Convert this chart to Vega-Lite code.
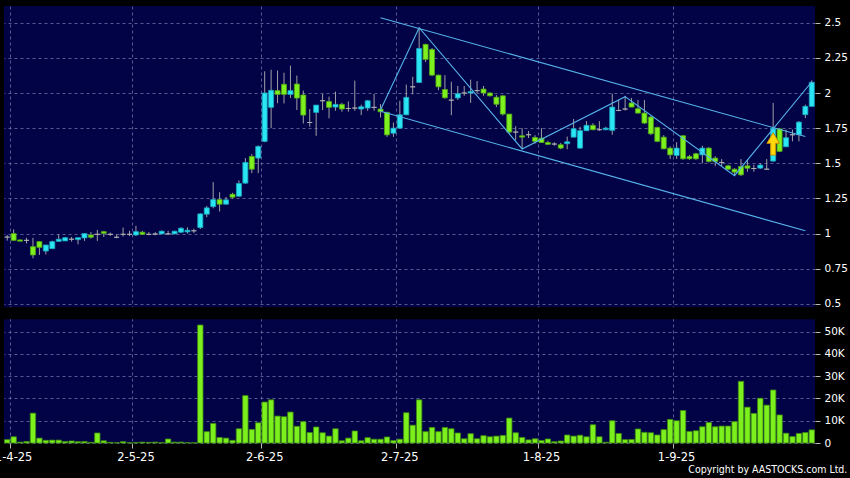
{
"$schema": "https://vega.github.io/schema/vega-lite/v6.json",
"width": 811,
"height": 437,
"autosize": {"type": "none"},
"padding": {"left": 4, "top": 6, "right": 35, "bottom": 35},
"background": "#000000",
"title": {"text": "Copyright by AASTOCKS.com Ltd.", "orient": "bottom", "anchor": "end", "color": "#ffffff", "fontSize": 10.5, "font": "DejaVu Sans Condensed, Liberation Sans Narrow, Liberation Sans", "fontWeight": "normal", "offset": 2},
"config": {
  "view": {"fill": "#020246", "stroke": null},
  "axis": {"domain": false, "gridColor": "#6a6aa0", "gridDash": [3, 3], "gridOpacity": 0.85, "tickColor": "#b8b8b8", "tickSize": 5, "labelColor": "#ffffff", "labelFont": "DejaVu Sans"}
},
"datasets": {
"candles": [
{"d":"2025-03-31","o":0.975,"h":0.99,"l":0.95,"c":0.975,"v":1500},
{"d":"2025-04-01","o":1.0,"h":1.03,"l":0.95,"c":0.952,"v":2800},
{"d":"2025-04-02","o":0.955,"h":0.958,"l":0.945,"c":0.946,"v":400},
{"d":"2025-04-03","o":0.952,"h":0.97,"l":0.93,"c":0.952,"v":700},
{"d":"2025-04-07","o":0.907,"h":0.97,"l":0.824,"c":0.848,"v":13400},
{"d":"2025-04-08","o":0.943,"h":0.945,"l":0.848,"c":0.902,"v":2200},
{"d":"2025-04-09","o":0.876,"h":0.92,"l":0.852,"c":0.919,"v":1200},
{"d":"2025-04-10","o":0.893,"h":0.95,"l":0.89,"c":0.943,"v":1300},
{"d":"2025-04-11","o":0.945,"h":0.995,"l":0.945,"c":0.96,"v":1300},
{"d":"2025-04-14","o":0.948,"h":0.976,"l":0.948,"c":0.971,"v":700},
{"d":"2025-04-15","o":0.96,"h":0.976,"l":0.943,"c":0.96,"v":900},
{"d":"2025-04-16","o":0.957,"h":0.971,"l":0.924,"c":0.971,"v":600},
{"d":"2025-04-17","o":0.969,"h":1.0,"l":0.948,"c":1.0,"v":700},
{"d":"2025-04-22","o":0.99,"h":1.012,"l":0.964,"c":0.974,"v":300},
{"d":"2025-04-23","o":0.995,"h":1.026,"l":0.948,"c":0.995,"v":4500},
{"d":"2025-04-24","o":1.014,"h":1.02,"l":0.976,"c":1.002,"v":1000},
{"d":"2025-04-25","o":0.995,"h":1.007,"l":0.983,"c":0.995,"v":300},
{"d":"2025-04-28","o":0.974,"h":0.995,"l":0.967,"c":0.974,"v":150},
{"d":"2025-04-29","o":0.995,"h":1.043,"l":0.979,"c":0.995,"v":600},
{"d":"2025-04-30","o":0.995,"h":1.02,"l":0.983,"c":0.995,"v":150},
{"d":"2025-05-02","o":0.99,"h":1.055,"l":0.983,"c":1.014,"v":200},
{"d":"2025-05-06","o":1.01,"h":1.02,"l":0.99,"c":0.995,"v":400},
{"d":"2025-05-07","o":0.995,"h":1.01,"l":0.988,"c":0.995,"v":300},
{"d":"2025-05-08","o":0.997,"h":1.01,"l":0.988,"c":0.997,"v":400},
{"d":"2025-05-09","o":0.998,"h":1.022,"l":0.995,"c":1.017,"v":150},
{"d":"2025-05-12","o":0.998,"h":1.02,"l":0.99,"c":0.998,"v":1800},
{"d":"2025-05-13","o":0.998,"h":1.02,"l":0.995,"c":1.017,"v":400},
{"d":"2025-05-14","o":1.01,"h":1.045,"l":1.003,"c":1.038,"v":400},
{"d":"2025-05-15","o":1.012,"h":1.045,"l":1.0,"c":1.024,"v":150},
{"d":"2025-05-16","o":1.02,"h":1.035,"l":1.005,"c":1.02,"v":100},
{"d":"2025-05-19","o":1.043,"h":1.145,"l":1.033,"c":1.14,"v":53000},
{"d":"2025-05-20","o":1.138,"h":1.197,"l":1.116,"c":1.183,"v":5100},
{"d":"2025-05-21","o":1.192,"h":1.366,"l":1.18,"c":1.242,"v":8800},
{"d":"2025-05-22","o":1.242,"h":1.295,"l":1.157,"c":1.209,"v":2500},
{"d":"2025-05-23","o":1.209,"h":1.26,"l":1.209,"c":1.24,"v":2200},
{"d":"2025-05-26","o":1.28,"h":1.29,"l":1.25,"c":1.259,"v":1200},
{"d":"2025-05-27","o":1.266,"h":1.378,"l":1.261,"c":1.356,"v":6400},
{"d":"2025-05-28","o":1.359,"h":1.537,"l":1.355,"c":1.506,"v":21300},
{"d":"2025-05-29","o":1.549,"h":1.565,"l":1.43,"c":1.458,"v":6100},
{"d":"2025-05-30","o":1.537,"h":1.627,"l":1.43,"c":1.62,"v":9100},
{"d":"2025-06-02","o":1.656,"h":2.154,"l":1.65,"c":2.0,"v":18400},
{"d":"2025-06-03","o":1.898,"h":2.166,"l":1.75,"c":2.019,"v":19400},
{"d":"2025-06-04","o":2.017,"h":2.16,"l":1.927,"c":1.99,"v":12100},
{"d":"2025-06-05","o":2.062,"h":2.144,"l":1.926,"c":1.99,"v":11800},
{"d":"2025-06-06","o":1.99,"h":2.195,"l":1.964,"c":2.017,"v":13900},
{"d":"2025-06-09","o":2.064,"h":2.124,"l":1.879,"c":1.964,"v":7500},
{"d":"2025-06-10","o":1.986,"h":2.017,"l":1.783,"c":1.843,"v":9600},
{"d":"2025-06-11","o":1.79,"h":1.886,"l":1.76,"c":1.79,"v":4700},
{"d":"2025-06-12","o":1.862,"h":1.914,"l":1.695,"c":1.914,"v":7200},
{"d":"2025-06-13","o":1.945,"h":1.993,"l":1.879,"c":1.945,"v":4600},
{"d":"2025-06-16","o":1.94,"h":1.974,"l":1.82,"c":1.898,"v":3100},
{"d":"2025-06-17","o":1.9,"h":2.01,"l":1.874,"c":1.919,"v":6400},
{"d":"2025-06-18","o":1.919,"h":1.93,"l":1.867,"c":1.886,"v":1000},
{"d":"2025-06-19","o":1.89,"h":1.94,"l":1.867,"c":1.89,"v":2200},
{"d":"2025-06-20","o":1.893,"h":2.088,"l":1.874,"c":1.893,"v":5400},
{"d":"2025-06-23","o":1.886,"h":1.917,"l":1.843,"c":1.902,"v":1000},
{"d":"2025-06-24","o":1.893,"h":1.95,"l":1.874,"c":1.945,"v":2400},
{"d":"2025-06-25","o":1.898,"h":1.993,"l":1.874,"c":1.898,"v":1700},
{"d":"2025-06-26","o":1.886,"h":1.921,"l":1.826,"c":1.867,"v":1700},
{"d":"2025-06-27","o":1.862,"h":1.867,"l":1.688,"c":1.702,"v":2700},
{"d":"2025-06-30","o":1.714,"h":1.79,"l":1.688,"c":1.75,"v":1100},
{"d":"2025-07-02","o":1.75,"h":1.945,"l":1.75,"c":1.845,"v":1700},
{"d":"2025-07-03","o":1.845,"h":2.06,"l":1.845,"c":1.969,"v":13600},
{"d":"2025-07-04","o":2.044,"h":2.115,"l":1.99,"c":2.044,"v":8000},
{"d":"2025-07-07","o":2.075,"h":2.46,"l":2.07,"c":2.317,"v":19400},
{"d":"2025-07-08","o":2.346,"h":2.35,"l":2.22,"c":2.239,"v":5100},
{"d":"2025-07-09","o":2.31,"h":2.32,"l":2.12,"c":2.127,"v":7000},
{"d":"2025-07-10","o":2.127,"h":2.13,"l":2.02,"c":2.044,"v":5100},
{"d":"2025-07-11","o":2.025,"h":2.127,"l":1.96,"c":1.966,"v":7000},
{"d":"2025-07-14","o":1.949,"h":2.08,"l":1.842,"c":1.949,"v":6400},
{"d":"2025-07-15","o":1.965,"h":2.05,"l":1.95,"c":1.995,"v":4500},
{"d":"2025-07-16","o":2.0,"h":2.05,"l":1.98,"c":2.0,"v":1900},
{"d":"2025-07-17","o":2.0,"h":2.095,"l":1.93,"c":2.01,"v":4200},
{"d":"2025-07-18","o":2.017,"h":2.085,"l":2.0,"c":2.017,"v":1900},
{"d":"2025-07-21","o":2.028,"h":2.05,"l":1.98,"c":2.0,"v":3300},
{"d":"2025-07-22","o":2.0,"h":2.005,"l":1.975,"c":1.98,"v":2800},
{"d":"2025-07-23","o":1.97,"h":1.985,"l":1.9,"c":1.92,"v":3100},
{"d":"2025-07-24","o":1.98,"h":1.985,"l":1.84,"c":1.85,"v":3400},
{"d":"2025-07-25","o":1.85,"h":1.85,"l":1.71,"c":1.722,"v":11200},
{"d":"2025-07-28","o":1.722,"h":1.764,"l":1.664,"c":1.722,"v":4600},
{"d":"2025-07-29","o":1.696,"h":1.75,"l":1.6,"c":1.686,"v":2500},
{"d":"2025-07-30","o":1.703,"h":1.73,"l":1.68,"c":1.703,"v":1400},
{"d":"2025-07-31","o":1.684,"h":1.7,"l":1.64,"c":1.656,"v":1900},
{"d":"2025-08-01","o":1.679,"h":1.75,"l":1.645,"c":1.648,"v":1100},
{"d":"2025-08-04","o":1.648,"h":1.66,"l":1.63,"c":1.635,"v":1800},
{"d":"2025-08-05","o":1.637,"h":1.65,"l":1.625,"c":1.637,"v":600},
{"d":"2025-08-06","o":1.632,"h":1.645,"l":1.6,"c":1.608,"v":900},
{"d":"2025-08-07","o":1.639,"h":1.69,"l":1.6,"c":1.653,"v":3600},
{"d":"2025-08-08","o":1.686,"h":1.815,"l":1.686,"c":1.746,"v":3100},
{"d":"2025-08-11","o":1.608,"h":1.76,"l":1.605,"c":1.732,"v":3500},
{"d":"2025-08-12","o":1.732,"h":1.8,"l":1.73,"c":1.77,"v":2800},
{"d":"2025-08-13","o":1.77,"h":1.785,"l":1.735,"c":1.739,"v":8200},
{"d":"2025-08-14","o":1.739,"h":1.8,"l":1.73,"c":1.739,"v":2800},
{"d":"2025-08-15","o":1.739,"h":1.76,"l":1.735,"c":1.75,"v":350},
{"d":"2025-08-18","o":1.734,"h":1.995,"l":1.703,"c":1.9,"v":10000},
{"d":"2025-08-19","o":1.876,"h":1.952,"l":1.87,"c":1.876,"v":4300},
{"d":"2025-08-20","o":1.886,"h":1.98,"l":1.875,"c":1.886,"v":1500},
{"d":"2025-08-21","o":1.929,"h":1.965,"l":1.9,"c":1.9,"v":1600},
{"d":"2025-08-22","o":1.888,"h":1.95,"l":1.855,"c":1.857,"v":6300},
{"d":"2025-08-25","o":1.857,"h":1.95,"l":1.78,"c":1.786,"v":4800},
{"d":"2025-08-26","o":1.829,"h":1.84,"l":1.7,"c":1.71,"v":4600},
{"d":"2025-08-27","o":1.755,"h":1.76,"l":1.65,"c":1.656,"v":3600},
{"d":"2025-08-28","o":1.686,"h":1.7,"l":1.6,"c":1.603,"v":6000},
{"d":"2025-08-29","o":1.608,"h":1.62,"l":1.53,"c":1.56,"v":10600},
{"d":"2025-09-01","o":1.556,"h":1.65,"l":1.53,"c":1.608,"v":10000},
{"d":"2025-09-02","o":1.696,"h":1.7,"l":1.525,"c":1.532,"v":14600},
{"d":"2025-09-03","o":1.549,"h":1.56,"l":1.525,"c":1.532,"v":5200},
{"d":"2025-09-04","o":1.568,"h":1.575,"l":1.525,"c":1.532,"v":5500},
{"d":"2025-09-05","o":1.56,"h":1.625,"l":1.5,"c":1.608,"v":7300},
{"d":"2025-09-08","o":1.608,"h":1.615,"l":1.505,"c":1.513,"v":9200},
{"d":"2025-09-09","o":1.537,"h":1.55,"l":1.48,"c":1.513,"v":7300},
{"d":"2025-09-10","o":1.506,"h":1.53,"l":1.48,"c":1.506,"v":7600},
{"d":"2025-09-11","o":1.482,"h":1.49,"l":1.455,"c":1.458,"v":7600},
{"d":"2025-09-12","o":1.458,"h":1.465,"l":1.41,"c":1.437,"v":9600},
{"d":"2025-09-15","o":1.477,"h":1.53,"l":1.41,"c":1.418,"v":27700},
{"d":"2025-09-16","o":1.482,"h":1.525,"l":1.44,"c":1.465,"v":16100},
{"d":"2025-09-17","o":1.463,"h":1.49,"l":1.44,"c":1.463,"v":13300},
{"d":"2025-09-18","o":1.466,"h":1.5,"l":1.46,"c":1.487,"v":20100},
{"d":"2025-09-19","o":1.458,"h":1.53,"l":1.455,"c":1.458,"v":17000},
{"d":"2025-09-22","o":1.516,"h":1.929,"l":1.51,"c":1.749,"v":23800},
{"d":"2025-09-23","o":1.745,"h":1.75,"l":1.58,"c":1.585,"v":12600},
{"d":"2025-09-24","o":1.618,"h":1.74,"l":1.615,"c":1.682,"v":4400},
{"d":"2025-09-25","o":1.703,"h":1.74,"l":1.656,"c":1.703,"v":2900},
{"d":"2025-09-26","o":1.703,"h":1.8,"l":1.656,"c":1.793,"v":4300},
{"d":"2025-09-29","o":1.846,"h":1.917,"l":1.822,"c":1.905,"v":4700},
{"d":"2025-09-30","o":1.905,"h":2.09,"l":1.905,"c":2.076,"v":5900}
],
"lines": [
{"g":"upper","k":1,"d":"2025-06-26","p":2.535},
{"g":"upper","k":2,"d":"2025-09-29","p":1.69},
{"g":"lower","k":1,"d":"2025-06-26","p":1.87},
{"g":"lower","k":2,"d":"2025-09-29","p":1.02},
{"g":"zig","k":1,"d":"2025-06-26","p":1.879},
{"g":"zig","k":2,"d":"2025-07-07","p":2.464},
{"g":"zig","k":3,"d":"2025-07-29","p":1.602},
{"g":"zig","k":4,"d":"2025-08-20","p":1.974},
{"g":"zig","k":5,"d":"2025-09-12","p":1.412},
{"g":"zig","k":6,"d":"2025-09-30","p":2.08}
],
"arrow": [
{"d":"2025-09-22","p":1.638}
]
},
"data": {"name": "candles"},
"encoding": {
  "x": {"field": "d", "type": "ordinal",
    "scale": {"type": "band", "paddingInner": 0, "paddingOuter": 0},
    "axis": {"values": ["2025-04-01","2025-05-02","2025-06-02","2025-07-02","2025-08-01","2025-09-01"],
      "labelExpr": "utcFormat(toDate(datum.value), '%-d-%-m-%y')",
      "bandPosition": 0, "grid": true, "labelAngle": 0, "labelFontSize": 11.5, "labelPadding": 3, "title": null}}
},
"layer": [
  {"layer": [
    {"mark": {"type": "rule", "color": "#a0a0a8", "strokeWidth": 1},
     "encoding": {
       "y": {"field": "l", "type": "quantitative",
         "scale": {"domain": [-0.4893, 2.6188], "nice": false, "zero": false},
         "axis": {"orient": "right", "values": [0.5, 0.75, 1, 1.25, 1.5, 1.75, 2, 2.25, 2.5], "format": ".3~f", "grid": true, "labelFontSize": 10.5, "labelPadding": 4, "title": null}},
       "y2": {"field": "h"}}},
    {"mark": {"type": "bar", "size": 5, "strokeWidth": 0.8},
     "encoding": {
       "y": {"field": "o", "type": "quantitative"},
       "y2": {"field": "c"},
       "fill": {"condition": [{"test": "datum.c > datum.o", "value": "#2ae6f2"}, {"test": "datum.c < datum.o", "value": "#7ef01e"}], "value": "#a8a8b0"},
       "stroke": {"condition": [{"test": "datum.c > datum.o", "value": "#1aa8c0"}, {"test": "datum.c < datum.o", "value": "#4fa814"}], "value": "#b4b4b4"}}},
    {"data": {"name": "lines"},
     "mark": {"type": "line", "color": "#55b4ea", "strokeWidth": 1.1},
     "encoding": {
       "y": {"field": "p", "type": "quantitative"},
       "detail": {"field": "g"},
       "order": {"field": "k"}}},
    {"data": {"name": "arrow"},
     "mark": {"type": "point", "shape": "M0,-1L0.56,-0.05L0.22,-0.05L0.22,1L-0.22,1L-0.22,-0.05L-0.56,-0.05Z", "size": 500, "filled": true, "fill": "#ffd80a", "stroke": "#c88a00", "strokeWidth": 1, "opacity": 1},
     "encoding": {"y": {"field": "p", "type": "quantitative"}}}
  ]},
  {"layer": [
    {"mark": {"type": "bar", "size": 5.4, "fill": "#7cf01c", "stroke": "#3e8a12", "strokeWidth": 0.8},
     "encoding": {
       "y": {"field": "v", "type": "quantitative",
         "scale": {"domain": [0, 196300], "nice": false},
         "axis": {"orient": "right", "values": [0, 10000, 20000, 30000, 40000, 50000], "labelExpr": "datum.value == 0 ? '0' : (datum.value / 1000) + 'K'", "grid": true, "labelFontSize": 10.5, "labelPadding": 4, "title": null}}}},
    {"data": {"values": [{}]},
     "mark": {"type": "rect", "color": "#000000"},
     "encoding": {
       "x": {"value": 0}, "x2": {"value": "width"},
       "y": {"datum": 55600}, "y2": {"datum": 61000}}}
  ]}
],
"resolve": {"scale": {"y": "independent"}}
}
